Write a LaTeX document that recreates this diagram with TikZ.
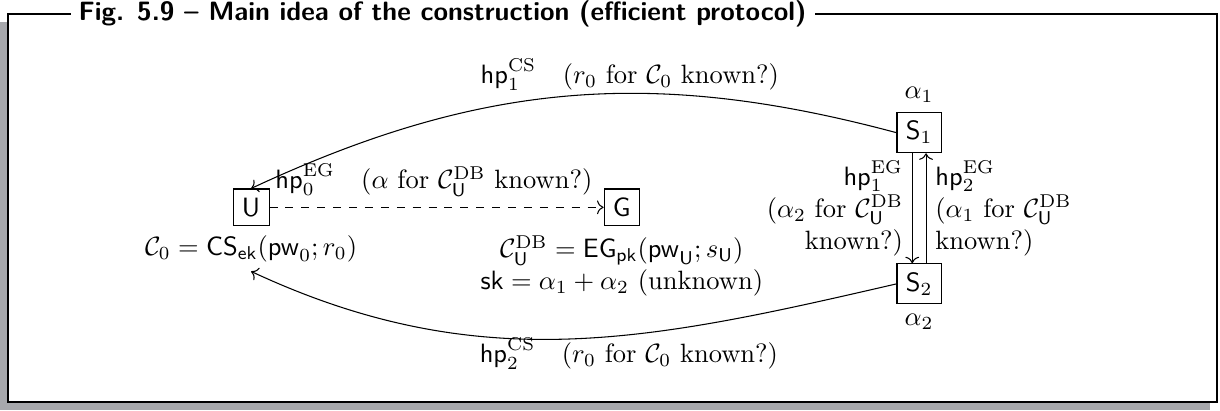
\documentclass[tikz,border=0pt]{standalone}
\usepackage{xcolor}
\usepackage{tikz}
\usetikzlibrary{positioning,arrows.meta}
\definecolor{framegray}{RGB}{167,168,172}

\begin{document}
\begin{tikzpicture}[
  party/.style={draw, font=\sffamily},
  note/.style={inner sep=1pt},
  arrow/.style={->}, node distance=1.46cm]
  \useasboundingbox (0,0) rectangle (16.18,5.44);
  % frame with shadow and title
  \fill[framegray] (0,0) rectangle (16.05,5.15);
  \draw[fill=white, line width=0.7pt] (0.11,0.11) rectangle (16.14,5.25);
  \node[fill=white, anchor=west, inner sep=3pt, font=\sffamily\bfseries] (title) at (0.93,5.25) {Fig. 5.9 -- Main idea of the construction (efficient protocol)};
  % parties
  \node[party] (u) at (3.33,2.69) {U};
  \node[party, right=4.43cm of u] (g) {G};
  \node[party, label={above:$\alpha_1$}] (s1) at (12.19,3.68) {$\mathsf{S}_1$};
  \node[party, label={below:$\alpha_2$}, below=of s1] (s2) {$\mathsf{S}_2$};
  \node[below=0pt of u] (cu) {$\mathcal{C}_0 = \mathsf{CS}_{\mathsf{ek}}(\mathsf{pw}_0; r_0)$};
  \node[below=0pt of g, align=center] (cg) {$\mathcal{C}_{\mathsf{U}}^{\mathrm{DB}} = \mathsf{EG}_{\mathsf{pk}}(\mathsf{pw}_{\mathsf{U}}; s_{\mathsf{U}})$\\$\mathsf{sk} = \alpha_1 + \alpha_2$ (unknown)};
  % messages
  \draw[arrow, dashed] (u) -- node[pos=0, above right, inner sep=2pt, yshift=2pt] {$\mathsf{hp}_0^{\mathrm{EG}}$\quad($\alpha$ for $\mathcal{C}_{\mathsf{U}}^{\mathrm{DB}}$ known?)} (g);
  \draw[arrow] ([xshift=-2.6pt]s1.south) -- node[left, align=right] {$\mathsf{hp}_1^{\mathrm{EG}}$\\($\alpha_2$ for $\mathcal{C}_{\mathsf{U}}^{\mathrm{DB}}$\\known?)} ([xshift=-2.6pt]s2.north);
  \draw[arrow] ([xshift=2.6pt]s2.north) -- node[right, align=left] {$\mathsf{hp}_2^{\mathrm{EG}}$\\($\alpha_1$ for $\mathcal{C}_{\mathsf{U}}^{\mathrm{DB}}$\\known?)} ([xshift=2.6pt]s1.south);
  \draw[arrow] (s1.west) to[out=165, in=25] node[pos=0.4, above, note] {$\mathsf{hp}_1^{\mathrm{CS}}$\quad($r_0$ for $\mathcal{C}_0$ known?)} (u.north);
  \draw[arrow] (s2.west) to[out=193, in=-25] node[pos=0.4, below, note] {$\mathsf{hp}_2^{\mathrm{CS}}$\quad($r_0$ for $\mathcal{C}_0$ known?)} (cu.south);
\end{tikzpicture}
\end{document}
